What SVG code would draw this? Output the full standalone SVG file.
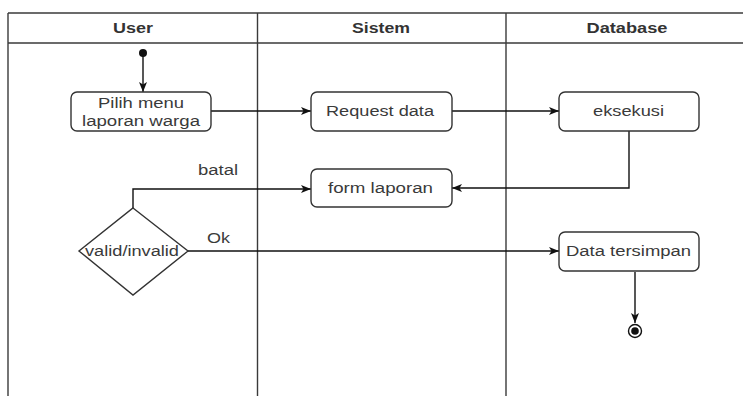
<svg xmlns="http://www.w3.org/2000/svg" width="743" height="396" viewBox="0 0 743 396">
  <defs>
    <style>
      .lane { fill: none; stroke: #3a3a3a; stroke-width: 1.4; }
      .hdr { font-family: "Liberation Sans", Arial, sans-serif; font-size: 14px; font-weight: bold; fill: #333; text-anchor: middle; }
      .box { fill: #ffffff; stroke: #333; stroke-width: 1.4; }
      .lbl { font-family: "Liberation Sans", Arial, sans-serif; font-size: 15.5px; fill: #3a3a3a; text-anchor: middle; }
      .edge { fill: none; stroke: #111; stroke-width: 1.4; }
    </style>
    <marker id="arrow" viewBox="0 0 10 8" refX="10" refY="4" markerWidth="10" markerHeight="8" markerUnits="userSpaceOnUse" orient="auto">
      <path d="M0,0 L10,4 L0,8 L2.5,4 Z" fill="#111"/>
    </marker>
  </defs>
  <rect width="743" height="396" fill="#ffffff"/>

  <!-- swimlane frame -->
  <g id="lanes">
    <line class="lane" x1="8" y1="13" x2="743" y2="13"/>
    <line class="lane" x1="8" y1="43" x2="743" y2="43"/>
    <line class="lane" x1="8" y1="13" x2="8" y2="396"/>
    <line class="lane" x1="257.5" y1="13" x2="257.5" y2="396"/>
    <line class="lane" x1="506" y1="13" x2="506" y2="396"/>
    <text class="hdr" x="133" y="33" textLength="40" lengthAdjust="spacingAndGlyphs">User</text>
    <text class="hdr" x="381" y="33" textLength="58" lengthAdjust="spacingAndGlyphs">Sistem</text>
    <text class="hdr" x="627" y="33" textLength="81" lengthAdjust="spacingAndGlyphs">Database</text>
  </g>

  <!-- connectors -->
  <g id="connectors">
    <line class="edge" x1="143" y1="53" x2="143" y2="92" marker-end="url(#arrow)"/>
    <line class="edge" x1="211" y1="111" x2="311" y2="111" marker-end="url(#arrow)"/>
    <line class="edge" x1="452" y1="111" x2="559" y2="111" marker-end="url(#arrow)"/>
    <polyline class="edge" points="629,131 629,188 452,188" marker-end="url(#arrow)"/>
    <polyline class="edge" points="133,208 133,189 311,189" marker-end="url(#arrow)"/>
    <line class="edge" x1="188" y1="251" x2="559" y2="251" marker-end="url(#arrow)"/>
    <line class="edge" x1="635" y1="272" x2="635" y2="323" marker-end="url(#arrow)"/>
    <text class="lbl" x="218" y="175" textLength="40" lengthAdjust="spacingAndGlyphs">batal</text>
    <text class="lbl" x="218.5" y="243" textLength="23" lengthAdjust="spacingAndGlyphs">Ok</text>
  </g>

  <g id="start">
    <circle cx="143" cy="53" r="4" fill="#111"/>
  </g>

  <g id="pilih-menu">
    <rect class="box" x="71" y="92" width="140" height="39" rx="6"/>
    <text class="lbl" x="141" y="108" textLength="86" lengthAdjust="spacingAndGlyphs">Pilih menu</text>
    <text class="lbl" x="141" y="126" textLength="118" lengthAdjust="spacingAndGlyphs">laporan warga</text>
  </g>

  <g id="request-data">
    <rect class="box" x="311" y="92" width="141" height="39" rx="6"/>
    <text class="lbl" x="380" y="116" textLength="108" lengthAdjust="spacingAndGlyphs">Request data</text>
  </g>

  <g id="eksekusi">
    <rect class="box" x="559" y="92" width="140" height="39" rx="6"/>
    <text class="lbl" x="628.5" y="116" textLength="71" lengthAdjust="spacingAndGlyphs">eksekusi</text>
  </g>

  <g id="form-laporan">
    <rect class="box" x="311" y="169" width="141" height="38" rx="6"/>
    <text class="lbl" x="380.5" y="193" textLength="105" lengthAdjust="spacingAndGlyphs">form laporan</text>
  </g>

  <g id="valid-invalid">
    <polygon class="box" points="133,208 188,251 133,295 79,251"/>
    <text class="lbl" x="132" y="256" textLength="94" lengthAdjust="spacingAndGlyphs">valid/invalid</text>
  </g>

  <g id="data-tersimpan">
    <rect class="box" x="559" y="232" width="140" height="39" rx="6"/>
    <text class="lbl" x="628.5" y="256" textLength="125" lengthAdjust="spacingAndGlyphs">Data tersimpan</text>
  </g>

  <g id="end">
    <circle cx="635" cy="331" r="6.5" fill="#fff" stroke="#111" stroke-width="1.4"/>
    <circle cx="635" cy="331" r="3.8" fill="#111"/>
  </g>
</svg>
